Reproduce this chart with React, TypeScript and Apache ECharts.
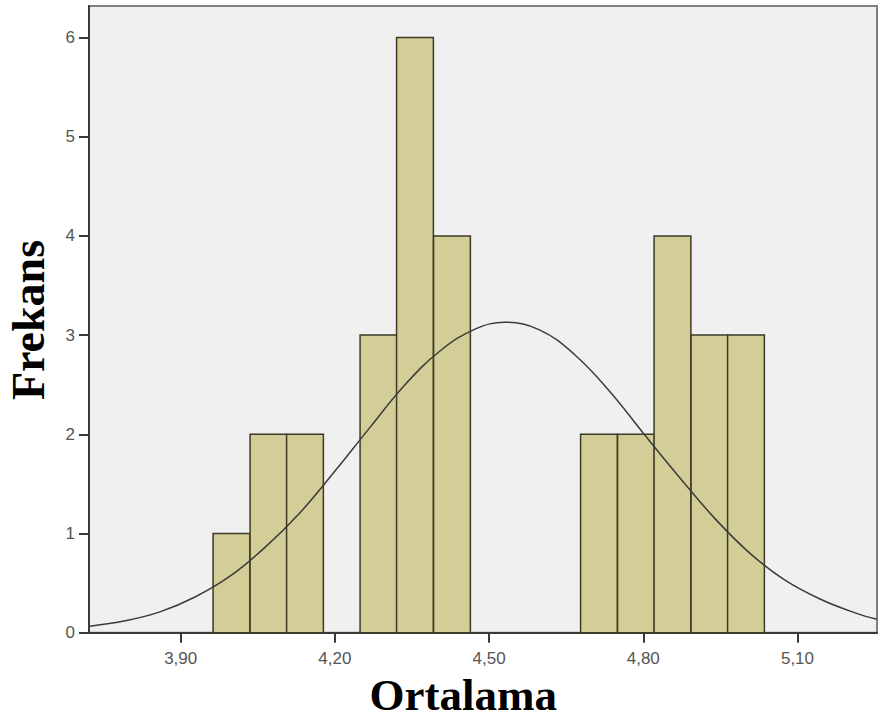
import React, { useEffect, useRef } from "react";
import * as echarts from "echarts";

// Histogram bins (lower edge of each non-empty bin) and frequencies
const BIN_WIDTH = 0.0716;
const binLower = [3.963, 4.035, 4.106, 4.249, 4.320, 4.392, 4.678, 4.750, 4.821, 4.893, 4.964];
const binCount = [1, 2, 2, 3, 6, 4, 2, 2, 4, 3, 3];

// Normal curve points
const curveX = [3.7235, 3.7916, 3.8597, 3.9278, 3.9959, 4.064, 4.1321, 4.2002, 4.2683, 4.3364, 4.4045, 4.4726, 4.5309, 4.599, 4.6671, 4.7352, 4.8033, 4.8714, 4.9395, 5.0076, 5.0757, 5.1438, 5.2119, 5.2547];
const curveY = [0.066, 0.12, 0.21, 0.36, 0.57, 0.86, 1.21, 1.63, 2.07, 2.5, 2.84, 3.06, 3.13, 3.05, 2.8, 2.43, 1.99, 1.56, 1.15, 0.8, 0.53, 0.34, 0.2, 0.135];

const xTicks = [3.9, 4.2, 4.5, 4.8, 5.1];
const yTicks = [0, 1, 2, 3, 4, 5, 6];

const X_MIN = 3.7216;
const X_MAX = 5.2547;
const Y_MAX = 6.318;

export default function App() {
  const ref = useRef<HTMLDivElement>(null);
  useEffect(() => {
    if (!ref.current) return;
    const chart = echarts.init(ref.current, null, { renderer: "svg" });
    const labelStyle = {
      color: "#555",
      fontSize: 17,
      fontFamily: "'Liberation Sans', Arial, sans-serif",
    };
    chart.setOption({
      animation: false,
      backgroundColor: "#ffffff",
      grid: {
        left: 89,
        top: 6,
        width: 788,
        height: 626.7,
        show: true,
        backgroundColor: "#F0F0F0",
        borderColor: "#808080",
        borderWidth: 2,
      },
      xAxis: {
        type: "value",
        min: X_MIN,
        max: X_MAX,
        splitLine: { show: false },
        axisLine: { show: true, onZero: false, lineStyle: { color: "#3a3a3a", width: 2 } },
        axisTick: { show: true, length: 10, customValues: xTicks, lineStyle: { color: "#3a3a3a", width: 2 } },
        axisLabel: {
          ...labelStyle,
          margin: 17,
          customValues: xTicks,
          formatter: (v: number) => v.toFixed(2).replace(".", ","),
        },
      },
      yAxis: {
        type: "value",
        min: 0,
        max: Y_MAX,
        splitLine: { show: false },
        axisLine: { show: true, lineStyle: { color: "#3a3a3a", width: 2 } },
        axisTick: { show: true, length: 10, customValues: yTicks, lineStyle: { color: "#3a3a3a", width: 2 } },
        axisLabel: {
          ...labelStyle,
          margin: 14,
          customValues: yTicks,
          formatter: (v: number) => String(Math.round(v)),
        },
      },
      graphic: [
        {
          type: "text",
          left: 469.5 - 100,
          top: 672,
          style: {
            text: "Ortalama",
            width: 200,
            align: "center",
            font: "bold 45px 'Liberation Serif', 'Times New Roman', serif",
            fill: "#000",
          },
          z: 100,
        },
        {
          type: "text",
          x: 28,
          y: 320,
          rotation: Math.PI / 2,
          style: {
            text: "Frekans",
            align: "center",
            verticalAlign: "middle",
            font: "bold 46px 'Liberation Serif', 'Times New Roman', serif",
            fill: "#000",
          },
          z: 100,
        },
      ],
      series: [
        {
          type: "custom",
          data: binLower.map((l, i) => [l, l + BIN_WIDTH, binCount[i]]),
          encode: { x: [0, 1], y: 2 },
          renderItem: (params: any, api: any) => {
            const p0 = api.coord([api.value(0), api.value(2)]);
            const p1 = api.coord([api.value(1), 0]);
            return {
              type: "rect",
              shape: { x: p0[0], y: p0[1], width: p1[0] - p0[0], height: p1[1] - p0[1] },
              style: { fill: "#D3CE97", stroke: "#3d3b26", lineWidth: 1.5 },
            };
          },
          z: 2,
        },
        {
          type: "line",
          data: curveX.map((x, i) => [x, curveY[i]]),
          smooth: 0.4,
          showSymbol: false,
          symbol: "none",
          lineStyle: { color: "#3b3b3b", width: 1.5 },
          z: 3,
        },
      ],
    });
    return () => chart.dispose();
  }, []);
  return (
    <div
      ref={ref}
      style={{ position: "absolute", left: 0, top: 0, width: 881, height: 722, background: "#fff" }}
    />
  );
}
